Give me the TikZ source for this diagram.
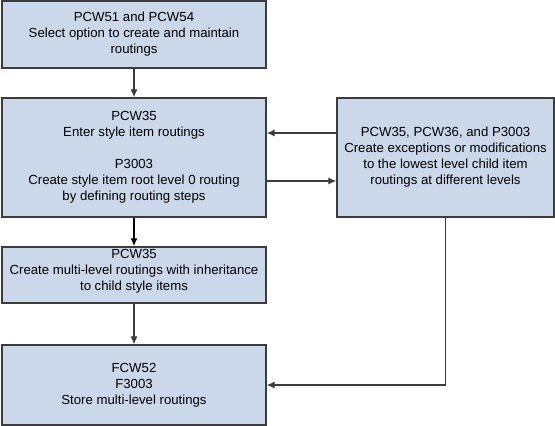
\documentclass[tikz,border=0pt]{standalone}
\usepackage{fontspec}
\setmainfont{Liberation Sans}
\usetikzlibrary{arrows.meta}
\definecolor{boxfill}{RGB}{203,216,234}
\definecolor{boxline}{RGB}{60,60,60}
\begin{document}
\begin{tikzpicture}[x=1pt,y=-1pt,
  stepbox/.style={draw=boxline,fill=boxfill,line width=1.3pt,inner sep=0pt,
    align=center,font=\fontsize{13.2}{16}\selectfont},
  arr/.style={draw=boxline,line width=1.2pt,-{Latex[length=8pt,width=7pt]}},
  txt/.style={align=center,inner sep=0pt,font=\fontsize{13.2}{16}\selectfont}]
\useasboundingbox (0,0) rectangle (555,426);
\node[stepbox,minimum width=264pt,minimum height=67pt] (b1) at (134,34.5)
  {PCW51 and PCW54\\Select option to create and maintain\\routings};
\node[stepbox,minimum width=264pt,minimum height=119pt] (b2) at (134,157.5)
  {PCW35\\Enter style item routings\\[16pt]P3003\\Create style item root level 0 routing\\by defining routing steps};
\node[stepbox,minimum width=264pt,minimum height=56pt] (b3) at (134,275) {};
\node[txt] (t3) at (134,271)
  {PCW35\\Create multi-level routings with inheritance\\to child style items};
\node[stepbox,minimum width=264pt,minimum height=80pt] (b4) at (134,385)
  {FCW52\\F3003\\Store multi-level routings};
\node[stepbox,minimum width=217pt,minimum height=119pt] (b5) at (445.5,157.5)
  {PCW35, PCW36, and P3003\\Create exceptions or modifications\\to the lowest level child item\\routings at different levels};
\draw[arr] (b1.south) -- (b2.north);
\draw[arr,draw=black,line width=1.6pt] (b2.south) -- (b3.north);
\draw[arr] (b3.south) -- (b4.north);
\draw[arr] ([yshift=24.5pt]b5.west) -- ([yshift=24.5pt]b2.east);
\draw[arr] ([yshift=-23.5pt]b2.east) -- ([yshift=-23.5pt]b5.west);
\draw[arr] (b5.south) |- (b4.east);
\end{tikzpicture}
\end{document}
